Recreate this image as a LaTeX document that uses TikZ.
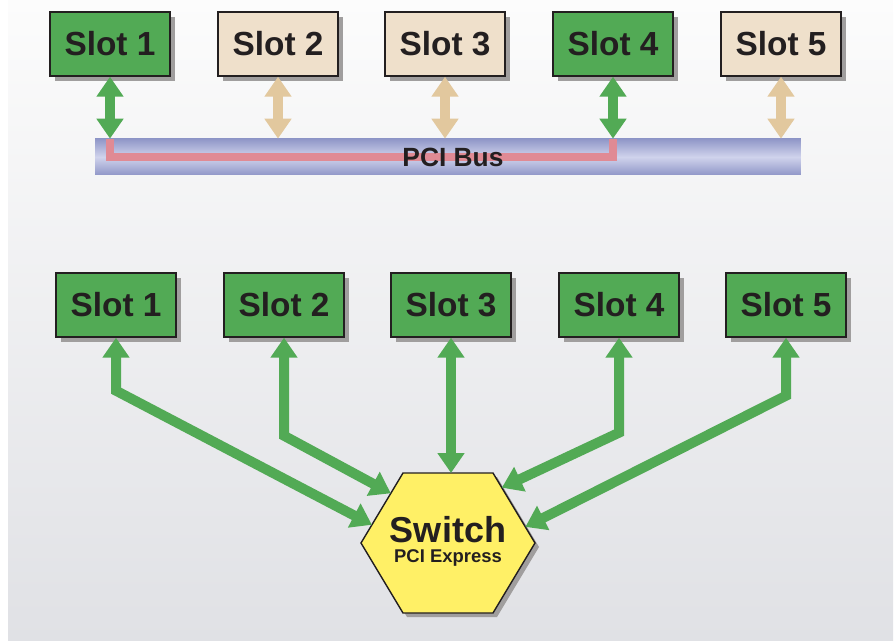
\documentclass[tikz,border=0pt]{standalone}
\usepackage{fontspec}
\setmainfont{Liberation Sans}
\usepackage{tikz}
\usetikzlibrary{
	arrows.meta,
	calc,
	shadows,
	positioning
}
\definecolor{slotgreen}{HTML}{52AA55}
\definecolor{slotbeige}{HTML}{EFE0CB}
\definecolor{arrowtan}{HTML}{E2C89E}
\definecolor{busblue}{HTML}{9097C8}
\definecolor{buslight}{HTML}{D0D3EC}
\definecolor{pathred}{HTML}{E08A94}
\definecolor{hexyellow}{HTML}{FFF066}
\definecolor{inkdark}{HTML}{231F20}
\definecolor{boxgray}{HTML}{A09E9E}
\definecolor{paneltop}{HTML}{FCFCFC}
\definecolor{panelbottom}{HTML}{E0E1E5}

\begin{document}
\begin{tikzpicture}[x=0.02cm, y=-0.02cm,
	slot/.style={draw=inkdark, line width=0.8pt, minimum width=2.4cm, minimum height=1.28cm, inner sep=0pt,
		text=inkdark, font=\fontsize{19}{21}\selectfont\bfseries,
		drop shadow={shadow xshift=0.1cm, shadow yshift=-0.1cm, fill=boxgray, opacity=1}},
	used/.style={slot, fill=slotgreen},
	idle/.style={slot, fill=slotbeige},
	link/.style={line width=0.2cm, line join=miter, >={Triangle[length=0.4cm,width=0.52cm]}, <->}
	]
	\useasboundingbox (0,0) rectangle (895,641);
	\shade[top color=paneltop, bottom color=panelbottom] (8,0) rectangle (893,641);

	% PCI: gemeinsamer Bus
	\node[used] (t1) at (110,44) {Slot 1};
	\node[idle] (t2) at (278,44) {Slot 2};
	\node[idle] (t3) at (445,44) {Slot 3};
	\node[used] (t4) at (613,44) {Slot 4};
	\node[idle] (t5) at (781,44) {Slot 5};
	\node[minimum width=14.12cm, minimum height=0.72cm, inner sep=0pt,
		top color=busblue, bottom color=busblue, middle color=buslight] (bus) at (448,157) {};
	\draw[line width=0.16cm, pathred, line join=miter]
		(t1.south |- bus.north) -- (t1.south |- bus.center) -- (t4.south |- bus.center) -- (t4.south |- bus.north);
	\node[text=inkdark, font=\fontsize{15}{17}\selectfont\bfseries] (buslabel) at (453,157) {PCI Bus};
	\draw[link, slotgreen] (t1.south) -- (t1.south |- bus.north);
	\draw[link, arrowtan] (t2.south) -- (t2.south |- bus.north);
	\draw[link, arrowtan] (t3.south) -- (t3.south |- bus.north);
	\draw[link, slotgreen] (t4.south) -- (t4.south |- bus.north);
	\draw[link, arrowtan] (t5.south) -- (t5.south |- bus.north);

	% PCI Express: Switch
	\node[used] (b1) at (116,305) {Slot 1};
	\node[used] (b2) at (284,305) {Slot 2};
	\node[used] (b3) at (451,305) {Slot 3};
	\node[used] (b4) at (619,305) {Slot 4};
	\node[used] (b5) at (786,305) {Slot 5};
	\begin{scope}[shift={(4,4)}]
		\fill[boxgray] (361,543) -- (403,473) -- (493,473) -- (535,543) -- (493,613) -- (403,613) -- cycle;
	\end{scope}
	\draw[fill=hexyellow, draw=inkdark, line width=0.8pt, line join=miter]
		(361,543) coordinate (hw) -- (403,473) coordinate (hnw) -- (493,473) coordinate (hne)
		-- (535,543) coordinate (he) -- (493,613) coordinate (hse) -- (403,613) coordinate (hsw) -- cycle;
	\node[anchor=base, text=inkdark, font=\fontsize{20.5}{22}\selectfont\bfseries, inner sep=0pt] (sw) at (448,542) {Switch};
	\node[anchor=base, text=inkdark, font=\fontsize{10.5}{12}\selectfont\bfseries, inner sep=0pt] (swsub) at (448,562) {PCI Express};
	\draw[link, slotgreen] (b1.south) -- ++(0,53) -- ($(hw)!0.26!(hnw)$);
	\draw[link, slotgreen] (b2.south) -- ++(0,98) -- ($(hw)!0.71!(hnw)$);
	\draw[link, slotgreen] (b3.south) -- (b3.south |- hnw);
	\draw[link, slotgreen] (b4.south) -- ++(0,95) -- ($(he)!0.79!(hne)$);
	\draw[link, slotgreen] (b5.south) -- ++(0,58) -- ($(he)!0.23!(hne)$);
\end{tikzpicture}
\end{document}
